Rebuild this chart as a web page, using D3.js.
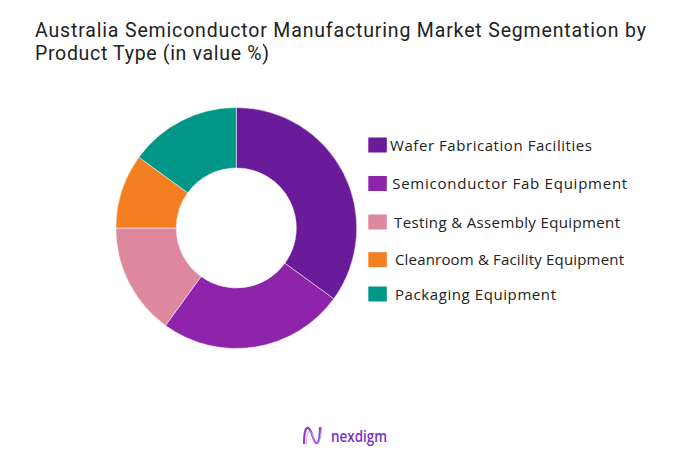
<!DOCTYPE html>
<html><head><meta charset="utf-8">
<script src="https://cdn.jsdelivr.net/npm/d3@7"></script>
<style>body{margin:0;background:#fff}svg{display:block}</style>
</head><body>
<script>
const categories = ["Wafer Fabrication Facilities","Semiconductor Fab Equipment","Testing & Assembly Equipment","Cleanroom & Facility Equipment","Packaging Equipment"];
const values = [35, 25, 15, 10, 15];
const colors = ["#6a1b9a","#8e24aa","#de88a0","#f47f20","#009688"];
const titleLines = ["Australia Semiconductor Manufacturing Market Segmentation by","Product Type (in value %)"];

const W=681,H=469;
const svg=d3.select("body").append("svg").attr("width",W).attr("height",H);
svg.append("rect").attr("width",W).attr("height",H).attr("fill","#fff");

const titleLen=[611,234];
svg.append("g").selectAll("text").data(titleLines).join("text")
  .attr("x",35).attr("y",(d,i)=>36.7+i*23.3)
  .attr("font-family","Roboto, sans-serif").attr("font-size",19.5).attr("fill","#222")
  .attr("textLength",(d,i)=>titleLen[i]).attr("lengthAdjust","spacing")
  .text(d=>d);

const cx=236.3, cy=228, R=120.5, r=60;
const pie=d3.pie().sort(null).value(d=>d)(values);
const arc=d3.arc().innerRadius(r).outerRadius(R);
svg.append("g").attr("transform",`translate(${cx},${cy})`)
  .selectAll("path").data(pie).join("path")
  .attr("d",arc).attr("fill",(d,i)=>colors[i]).attr("stroke","#fff").attr("stroke-width",0.5);

const ly=[145,183.5,222,259.7,294];
const tx=[390,392.2,394,395,395];
const tl=[202,235,226,229,161];
const lg=svg.append("g");
categories.forEach((c,i)=>{
  lg.append("rect").attr("x",368.3).attr("y",ly[i]-7.5).attr("width",18.5).attr("height",15).attr("fill",colors[i]);
  lg.append("text").attr("x",tx[i]).attr("y",ly[i]+5.5)
    .attr("font-family","'Open Sans', sans-serif").attr("font-size",15).attr("fill","#222")
    .attr("textLength",tl[i]).attr("lengthAdjust","spacing").text(c);
});

// logo
const logo=svg.append("g");
logo.append("path").attr("d","M304,444 C304,424 309,424 312.5,436 C316,447 320,446 320,427")
  .attr("fill","none").attr("stroke","#8e3fd0").attr("stroke-width",2.2);
logo.append("path").attr("d","M306.5,445 C306.5,428 310.5,428 313.5,438 C316.5,446 321,444 321.5,427")
  .attr("fill","none").attr("stroke","#c9a3ee").attr("stroke-width",1);
logo.append("text").attr("x",331).attr("y",442.3).attr("font-family","'Open Sans', sans-serif")
  .attr("font-size",17).attr("font-weight",600).attr("fill","#7a2fc4")
  .attr("textLength",56).attr("lengthAdjust","spacingAndGlyphs").text("nexdigm");
</script>
</body></html>
